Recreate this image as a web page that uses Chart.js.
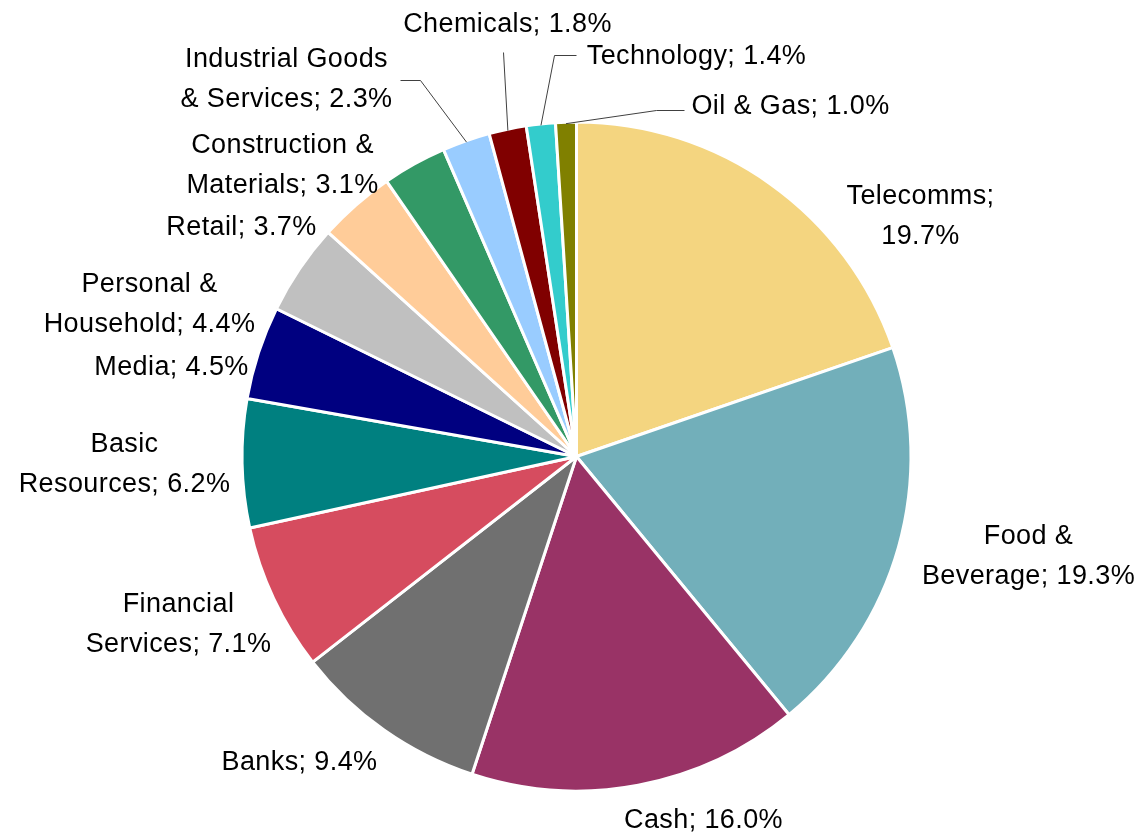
<!DOCTYPE html>
<html>
<head>
<meta charset="utf-8">
<script src="https://cdn.jsdelivr.net/npm/chart.js@4"></script>
<style>
  html, body { margin: 0; padding: 0; background: #ffffff; }
  #wrap { width: 1142px; height: 836px; }
</style>
</head>
<body>
<div id="wrap"><canvas id="pie" width="1142" height="836"></canvas></div>
<script>
// Sector weights of the portfolio (%), clockwise from 12 o'clock
const categories = [
  'Telecomms', 'Food & Beverage', 'Cash', 'Banks', 'Financial Services',
  'Basic Resources', 'Media', 'Personal & Household', 'Retail',
  'Construction & Materials', 'Industrial Goods & Services', 'Chemicals',
  'Technology', 'Oil & Gas'
];
const shares = [19.7, 19.3, 16.0, 9.4, 7.1, 6.2, 4.5, 4.4, 3.7, 3.1, 2.3, 1.8, 1.4, 1.0];
const sliceColors = [
  '#F4D580', '#72AFBA', '#993366', '#707070', '#D64C5F',
  '#008080', '#000080', '#C0C0C0', '#FFCC99',
  '#339966', '#99CCFF', '#800000', '#33CCCC', '#808000'
];

// Label placement, in px relative to the pie centre.
// wrap: number of words on the first line (-1 = put the value on its own line)
// leader: polyline start points near the label; the line ends on the slice edge.
const labelLayout = [
  { dx: 344,  dy: -240, wrap: -1 },
  { dx: 452,  dy: 100,  wrap: 2 },
  { dx: 127,  dy: 364,  wrap: 0 },
  { dx: -277, dy: 306,  wrap: 0 },
  { dx: -398, dy: 168,  wrap: 1 },
  { dx: -452, dy: 8,    wrap: 1 },
  { dx: -405, dy: -89,  wrap: 0 },
  { dx: -427, dy: -152, wrap: 2 },
  { dx: -335, dy: -229, wrap: 0 },
  { dx: -294, dy: -291, wrap: 2 },
  { dx: -290, dy: -377, wrap: 2, leader: [[-176, -376], [-156, -376]] },
  { dx: -69,  dy: -432, wrap: 0, leader: [[-73, -404]] },
  { dx: 120,  dy: -400, wrap: 0, leader: [[0, -401], [-22, -401]] },
  { dx: 214,  dy: -350, wrap: 0, leader: [[108, -346], [80, -346]] }
];

function labelLines(i) {
  const text = categories[i];
  const val = shares[i].toFixed(1) + '%';
  const w = labelLayout[i].wrap;
  if (w === -1) return [text + ';', val];
  if (w === 0) return [text + '; ' + val];
  const words = text.split(' ');
  return [words.slice(0, w).join(' '), words.slice(w).join(' ') + '; ' + val];
}

const sliceLabels = {
  id: 'sliceLabels',
  afterDatasetsDraw(chart) {
    const ctx = chart.ctx;
    const arcs = chart.getDatasetMeta(0).data;
    ctx.save();
    arcs.forEach((arc, i) => {
      const { x, y, startAngle, endAngle, outerRadius } = arc.getProps(['x', 'y', 'startAngle', 'endAngle', 'outerRadius'], true);
      const L = labelLayout[i];
      if (L.leader) {
        const mid = (startAngle + endAngle) / 2;
        const edgeR = outerRadius - 1.5;
        ctx.beginPath();
        ctx.strokeStyle = '#404040';
        ctx.lineWidth = 1;
        L.leader.forEach((p, k) => {
          if (k === 0) ctx.moveTo(x + p[0], y + p[1]);
          else ctx.lineTo(x + p[0], y + p[1]);
        });
        ctx.lineTo(x + Math.cos(mid) * edgeR, y + Math.sin(mid) * edgeR);
        ctx.stroke();
      }
      const lines = labelLines(i);
      ctx.fillStyle = '#000000';
      ctx.font = '27px "Liberation Sans", Arial, sans-serif';
      if ('letterSpacing' in ctx) ctx.letterSpacing = '0.4px';
      ctx.textAlign = 'center';
      ctx.textBaseline = 'middle';
      const lh = 40;
      const top = y + L.dy - (lines.length - 1) * lh / 2;
      lines.forEach((t, k) => ctx.fillText(t, x + L.dx, top + k * lh));
    });
    ctx.restore();
  }
};

new Chart(document.getElementById('pie'), {
  type: 'pie',
  data: {
    labels: categories,
    datasets: [{
      data: shares,
      backgroundColor: sliceColors,
      borderColor: '#ffffff',
      borderWidth: 3
    }]
  },
  options: {
    responsive: false,
    animation: false,
    devicePixelRatio: 1,
    layout: { padding: { left: 240.5, right: 229.5, top: 120.5, bottom: 43.5 } },
    plugins: {
      legend: { display: false },
      tooltip: { enabled: false }
    }
  },
  plugins: [sliceLabels]
});
</script>
</body>
</html>
